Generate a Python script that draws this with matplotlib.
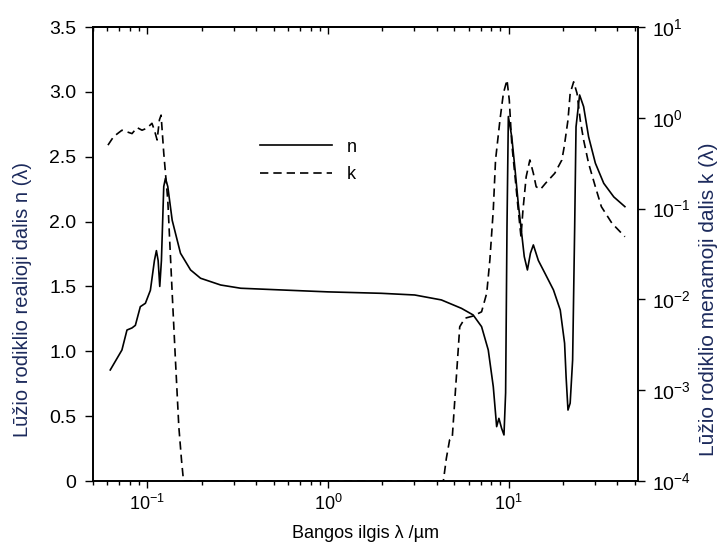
import matplotlib
matplotlib.use("Agg")
import matplotlib.pyplot as plt
from matplotlib.ticker import LogLocator, NullLocator, FixedFormatter

plt.rcParams['font.family'] = ['Liberation Sans', 'DejaVu Sans']
plt.rcParams['mathtext.fontset'] = 'custom'
plt.rcParams['mathtext.rm'] = 'Liberation Sans'
plt.rcParams['mathtext.it'] = 'Liberation Sans:italic'
plt.rcParams['mathtext.bf'] = 'Liberation Sans:bold'

# real part n(lambda)
n_wl = [0.0623, 0.0723, 0.0771, 0.0822, 0.0858, 0.0914, 0.0975, 0.1039, 0.1094,
        0.1122, 0.1147, 0.1171, 0.1196, 0.1232, 0.1259, 0.1297, 0.1372, 0.1525,
        0.1734, 0.197, 0.2545, 0.3285, 0.548, 1.0, 1.969, 3.02, 4.24, 5.48, 6.36,
        7.08, 7.71, 8.22, 8.58, 8.83, 9.14, 9.42, 9.62, 9.79, 9.96, 10.4, 10.85,
        11.3, 11.8, 12.2, 12.7, 13.2, 13.7, 14.6, 15.9, 17.7, 19.3, 20.4, 20.8,
        21.3, 21.9, 22.6, 23.2, 23.6, 24.7, 26.0, 27.7, 30.2, 33.6, 38.2, 44.0]
n_val = [0.856, 1.01, 1.164, 1.18, 1.20, 1.344, 1.37, 1.47, 1.70,
         1.776, 1.70, 1.50, 1.70, 2.27, 2.334, 2.27, 2.01, 1.756,
         1.627, 1.563, 1.511, 1.486, 1.473, 1.458, 1.447, 1.434, 1.396, 1.331, 1.28,
         1.19, 1.01, 0.727, 0.419, 0.483, 0.406, 0.355, 0.68, 1.96, 2.81, 2.654, 2.40,
         2.14, 1.91, 1.73, 1.627, 1.756, 1.82, 1.70, 1.60, 1.473, 1.318, 1.062, 0.80,
         0.547, 0.60, 0.933, 1.96, 2.73, 2.976, 2.886, 2.654, 2.45, 2.295, 2.19, 2.115]

# imaginary part k(lambda)
k_wl = [0.0605, 0.065, 0.0723, 0.0771, 0.0822, 0.0877, 0.0934, 0.0996, 0.106,
        0.1094, 0.1132, 0.1166, 0.1191, 0.1232, 0.1297, 0.1372, 0.143, 0.1493,
        0.1545, 0.1585, 4.35, 4.52, 4.71, 4.87, 4.99, 5.21, 5.36, 5.72, 6.36,
        7.08, 7.56, 7.87, 8.22, 8.46, 8.95, 9.35, 9.79, 10.08, 10.4, 10.85,
        11.3, 11.7, 12.0, 12.5, 13.1, 13.7, 14.2, 15.0, 16.0, 18.0, 19.7, 20.3,
        21.3, 21.9, 22.9, 23.9, 24.9, 26.0, 27.7, 30.2, 32.6, 37.3, 44.0]
k_val = [0.50, 0.62, 0.73, 0.70, 0.67, 0.78, 0.73, 0.77, 0.87,
         0.73, 0.57, 0.95, 1.07, 0.41, 0.124, 0.0117, 2.15e-3, 3.96e-4,
         1.7e-4, 1e-4, 1e-4, 1.78e-4, 2.83e-4, 2.95e-4, 6.05e-4, 2.15e-3, 5.0e-3, 6.2e-3, 6.56e-3,
         7.3e-3, 0.0117, 0.0272, 0.0966, 0.343, 0.946, 1.86, 2.61, 1.57, 0.524, 0.224,
         0.0966, 0.049, 0.0966, 0.224, 0.343, 0.245, 0.174, 0.163, 0.19, 0.245, 0.343, 0.48,
         0.946, 1.86, 2.49, 1.86, 0.946, 0.569, 0.315, 0.174, 0.105, 0.069, 0.049]

n_ticks = [0, 0.5, 1.0, 1.5, 2.0, 2.5, 3.0, 3.5]
n_ticklabels = ['0', '0.5', '1.0', '1.5', '2.0', '2.5', '3.0', '3.5']

fig = plt.figure(figsize=(7.21, 5.43), dpi=100)
ax = fig.add_axes([93 / 721, 62 / 543, 545 / 721, 454 / 543])
ax2 = ax.twinx()

line_n, = ax.plot(n_wl, n_val, color='black', lw=1.2, label='n')
line_k, = ax2.plot(k_wl, k_val, color='black', lw=1.2, dashes=(5, 3), label='k')

ax.set_xscale('log')
ax.set_xlim(0.05, 52)
ax.set_ylim(0, 3.5)
ax.set_yticks(n_ticks)
ax.yaxis.set_major_formatter(FixedFormatter(n_ticklabels))

ax2.set_yscale('log')
ax2.set_ylim(1e-4, 10)
ax2.yaxis.set_major_locator(LogLocator(base=10, numticks=10))
ax2.yaxis.set_minor_locator(NullLocator())

ax.tick_params(axis='x', which='major', direction='out', length=5, width=1, labelsize=13, pad=4)
ax.tick_params(axis='x', which='minor', direction='out', length=3, width=1)
ax.tick_params(axis='y', direction='out', length=6, width=1, labelsize=14, pad=6)
ax2.tick_params(axis='y', direction='out', length=5, width=1, labelsize=14, pad=5)

top = ax.secondary_xaxis('top')
top.tick_params(axis='x', which='major', direction='in', length=5, width=1, labeltop=False)
top.tick_params(axis='x', which='minor', direction='in', length=3, width=1)

for a in (ax, ax2):
    for s in a.spines.values():
        s.set_linewidth(1.2)
top.spines['top'].set_linewidth(1.2)

label_color = '#1c2a5c'
ax.set_xlabel('Bangos ilgis λ /µm', fontsize=13, labelpad=8)
ax.set_ylabel('Lūžio rodiklio realioji dalis n (λ)', fontsize=14.5, color=label_color)
ax.yaxis.set_label_coords(-0.112, 0.40)
ax2.set_ylabel('Lūžio rodiklio menamoji dalis k (λ)', fontsize=15, color=label_color)
ax2.yaxis.set_label_coords(1.112, 0.40)

ax.legend([line_n, line_k], ['n', 'k'], loc='upper left', bbox_to_anchor=(0.276, 0.79),
          frameon=False, handlelength=4.0, fontsize=13, handletextpad=0.8, labelspacing=0.6)

fig.savefig('out.png', dpi=100)
